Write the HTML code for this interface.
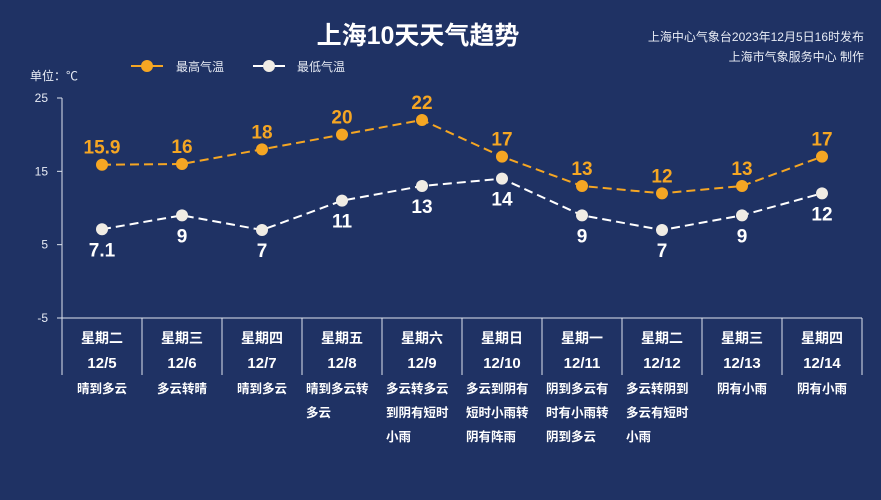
<!DOCTYPE html>
<html><head><meta charset="utf-8"><style>
html,body{margin:0;padding:0}
body{background:#1f3264;width:881px;height:500px;overflow:hidden;font-family:"Liberation Sans","Noto Sans CJK SC",sans-serif}
svg{display:block}
svg text{font-family:"Liberation Sans","Noto Sans CJK SC",sans-serif}
</style></head><body>
<svg id="c" width="881" height="500" xmlns="http://www.w3.org/2000/svg">
<rect width="881" height="500" fill="#1f3264"/>
<text x="418" y="44" text-anchor="middle" font-size="25" font-weight="bold" fill="#fff">上海10天天气趋势</text>
<text x="864" y="41" text-anchor="end" font-size="12" fill="#e8ecf5">上海中心气象台2023年12月5日16时发布</text>
<text x="864" y="61" text-anchor="end" font-size="12" fill="#e8ecf5">上海市气象服务中心 制作</text>
<text x="30" y="80" font-size="12" fill="#e8ecf5">单位：℃</text>
<g>
<line x1="131" y1="66" x2="163" y2="66" stroke="#f5a623" stroke-width="2"/><circle cx="147" cy="66" r="6" fill="#f5a623"/>
<text x="176" y="71" font-size="12" fill="#e8ecf5">最高气温</text></g>
<g>
<line x1="253" y1="66" x2="285" y2="66" stroke="#fff" stroke-width="2"/><circle cx="269" cy="66" r="6" fill="#f0ece4"/>
<text x="297" y="71" font-size="12" fill="#e8ecf5">最低气温</text></g>
<g id="axes"></g><g id="marks"></g>
</svg>
<script>
const days=["星期二","星期三","星期四","星期五","星期六","星期日","星期一","星期二","星期三","星期四"];
const dates=["12/5","12/6","12/7","12/8","12/9","12/10","12/11","12/12","12/13","12/14"];
const weather=[["晴到多云"],["多云转晴"],["晴到多云"],["晴到多云转","多云"],["多云转多云","到阴有短时","小雨"],["多云到阴有","短时小雨转","阴有阵雨"],["阴到多云有","时有小雨转","阴到多云"],["多云转阴到","多云有短时","小雨"],["阴有小雨"],["阴有小雨"]];
const highs=[15.9,16,18,20,22,17,13,12,13,17];
const lows=[7.1,9,7,11,13,14,9,7,9,12];
const yTicks=[25,15,5,-5];
const NS="http://www.w3.org/2000/svg";
const X0=62,CW=80,Y0=98,Y1=318,YMAX=25,YMIN=-5;
const xs=i=>X0+CW*(i+0.5);
const ys=v=>Y0+(YMAX-v)/(YMAX-YMIN)*(Y1-Y0);
function mk(p,t,a,txt){const e=document.createElementNS(NS,t);for(const k in a)e.setAttribute(k,a[k]);if(txt!=null)e.textContent=txt;p.appendChild(e);return e;}
const ax=document.getElementById('axes'),mg=document.getElementById('marks');
let e=mk(ax,'line',{x1:X0,y1:Y0,x2:X0,y2:Y1+57,stroke:'#dfe4ee','stroke-width':1});


e=mk(ax,'line',{x1:X0,y1:Y1,x2:X0+CW*10,y2:Y1,stroke:'#dfe4ee','stroke-width':1});


yTicks.forEach(v=>{
 mk(ax,'line',{x1:X0-5,y1:ys(v),x2:X0,y2:ys(v),stroke:'#dfe4ee'});
 e=mk(ax,'text',{x:X0-14,y:ys(v)+4,'text-anchor':'end','font-size':12,fill:'#e8ecf5'},String(v));
 
 
});
days.forEach((d,i)=>{
 mk(ax,'line',{x1:X0+CW*(i+1),y1:Y1,x2:X0+CW*(i+1),y2:Y1+57,stroke:'#dfe4ee'});
 e=mk(ax,'text',{x:xs(i),y:Y1+25,'text-anchor':'middle','font-size':14,'font-weight':'bold',fill:'#fff'},d);
 
 
 e=mk(ax,'text',{x:xs(i),y:Y1+50,'text-anchor':'middle','font-size':15,'font-weight':'bold',fill:'#fff'},dates[i]);
 
 
 const lines=weather[i];
 lines.forEach((l,j)=>{
  const anc=lines.length>1?'start':'middle',xx=lines.length>1?X0+CW*i+4:xs(i);
  e=mk(ax,'text',{x:xx,y:Y1+75+j*24,'text-anchor':anc,'font-size':12.5,'font-weight':'bold',fill:'#fff'},l);
  
  
 });
});
function series(vals,col,dot,name,above){
 const pts=vals.map((v,i)=>xs(i)+','+ys(v)).join(' ');
 e=mk(mg,'polyline',{points:pts,fill:'none',stroke:col,'stroke-width':2,'stroke-dasharray':'9,5'});
 
 
 vals.forEach((v,i)=>{
  e=mk(mg,'circle',{cx:xs(i),cy:ys(v),r:6,fill:dot});
  
  
  e=mk(mg,'text',{x:xs(i),y:above?ys(v)-11:ys(v)+27,'text-anchor':'middle','font-size':19,'font-weight':'bold',fill:col},String(v));
  
  
 });
}
series(highs,'#f5a623','#f5a623','high-temp',true);
series(lows,'#ffffff','#f0ece4','low-temp',false);
</script>
</body></html>
